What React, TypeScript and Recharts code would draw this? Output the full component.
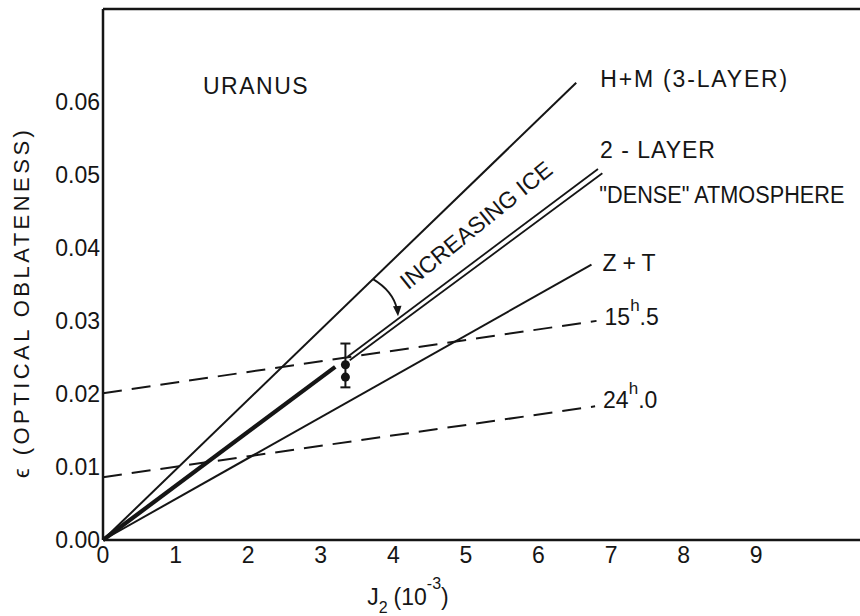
import React from 'react';
import { ComposedChart, Line, Scatter, ErrorBar, XAxis, YAxis, ReferenceDot } from 'recharts';

type Pt = { x: number; y: number };

// J2 (10^-3) on x, optical oblateness on y
const xTicks = [0, 1, 2, 3, 4, 5, 6, 7, 8, 9];
const topTicks = [1, 2, 3, 4, 5, 6, 7, 8, 9];
const yTicks = [0, 0.01, 0.02, 0.03, 0.04, 0.05, 0.06];

const hmThreeLayer: Pt[] = [{ x: 0, y: 0 }, { x: 6.52, y: 0.0626 }];
const twoLayer: Pt[] = [{ x: 3.37, y: 0.0251 }, { x: 6.82, y: 0.0508 }];
const denseAtm: Pt[] = [{ x: 3.4, y: 0.0246 }, { x: 6.88, y: 0.0502 }];
const sharedPart: Pt[] = [{ x: 0, y: 0 }, { x: 3.2, y: 0.0237 }];
const zPlusT: Pt[] = [{ x: 0, y: 0 }, { x: 6.73, y: 0.0377 }];
const period155: Pt[] = [{ x: 0, y: 0.0201 }, { x: 6.8, y: 0.03 }];
const period240: Pt[] = [{ x: 0, y: 0.0086 }, { x: 6.78, y: 0.0183 }];

const obsUpper = [{ x: 3.34, y: 0.024, err: [0.0031, 0.0029] }];
const obsLower = [{ x: 3.34, y: 0.0223 }];

const X_DOMAIN: [number, number] = [0, 10.43];
const Y_DOMAIN: [number, number] = [0, 0.0727];

const FONT = '"Liberation Sans", Arial, sans-serif';
const INK = '#151515';

const last = (s: Pt[]) => s[s.length - 1];

export default function App() {
  const lp = {
    dot: false,
    activeDot: false,
    isAnimationActive: false,
    stroke: INK,
    strokeWidth: 2,
    dataKey: 'y',
  } as const;
  const ts = { fontFamily: FONT, fontSize: 23, fill: INK };
  const tickLn = { stroke: INK, strokeWidth: 2 };
  const axisLn = { stroke: INK, strokeWidth: 2.5 };

  // text / marks placed relative to a point in data space
  const at = (key: string, p: Pt, dx: number, dy: number, body: (x: number, y: number) => React.ReactNode) => (
    <ReferenceDot
      key={key}
      x={p.x}
      y={p.y}
      r={0}
      ifOverflow="visible"
      shape={(s: any) => <g>{body(s.cx + dx, s.cy + dy)}</g>}
    />
  );

  const hmEnd = last(hmThreeLayer);
  const arrowStart = { x: 3.72, y: (hmEnd.y / hmEnd.x) * 3.72 };

  return (
    <div style={{ position: 'absolute', left: 0, top: 0, width: 860, height: 616, background: '#fff', overflow: 'hidden' }}>
      <ComposedChart width={860} height={616} margin={{ top: 9, right: 0, bottom: 46, left: 43 }}>
        {/* labelled axes */}
        <XAxis
          xAxisId={0}
          type="number"
          dataKey="x"
          domain={X_DOMAIN}
          ticks={xTicks}
          interval={0}
          height={30}
          tickSize={0}
          tickMargin={7}
          axisLine={axisLn}
          tickLine={false}
          tick={{ ...ts }}
        />
        <YAxis
          yAxisId={0}
          type="number"
          dataKey="y"
          domain={Y_DOMAIN}
          ticks={yTicks}
          interval={0}
          width={60}
          tickSize={0}
          tickMargin={3}
          tickFormatter={(v: number) => v.toFixed(2)}
          axisLine={axisLn}
          tickLine={false}
          tick={{ ...ts }}
        />
        {/* inward tick marks and the frame */}
        <XAxis
          xAxisId="bIn"
          type="number"
          dataKey="x"
          domain={X_DOMAIN}
          ticks={xTicks.slice(1)}
          interval={0}
          mirror
          height={12}
          tickSize={12}
          axisLine={false}
          tickLine={tickLn}
          tick={false}
        />
        <XAxis
          xAxisId="top"
          orientation="top"
          type="number"
          dataKey="x"
          domain={X_DOMAIN}
          ticks={topTicks}
          interval={0}
          mirror
          height={12}
          tickSize={11}
          axisLine={axisLn}
          tickLine={tickLn}
          tick={false}
        />
        <YAxis
          yAxisId="lIn"
          type="number"
          domain={Y_DOMAIN}
          ticks={yTicks.slice(1)}
          interval={0}
          mirror
          width={12}
          tickSize={10}
          axisLine={false}
          tickLine={tickLn}
          tick={false}
        />
        <YAxis
          yAxisId="rIn"
          orientation="right"
          type="number"
          domain={Y_DOMAIN}
          ticks={yTicks.slice(1)}
          interval={0}
          mirror
          width={12}
          tickSize={9}
          axisLine={false}
          tickLine={tickLn}
          tick={false}
        />

        <Line {...lp} data={hmThreeLayer} />
        <Line {...lp} data={sharedPart} strokeWidth={4.2} />
        <Line {...lp} data={twoLayer} strokeWidth={1.8} />
        <Line {...lp} data={denseAtm} strokeWidth={1.8} />
        <Line {...lp} data={zPlusT} />
        <Line {...lp} data={period155} strokeDasharray="19 10" />
        <Line {...lp} data={period240} strokeDasharray="19 10" />

        <Scatter data={obsUpper} fill={INK} isAnimationActive={false}>
          <ErrorBar dataKey="err" direction="y" width={5} stroke={INK} strokeWidth={2} isAnimationActive={false} />
        </Scatter>
        <Scatter data={obsLower} fill={INK} isAnimationActive={false} />

        {at('uranus', { x: 1.378, y: 0.0611 }, 0, 0, (x, y) => (
          <text x={x} y={y} {...ts} letterSpacing={1.5}>URANUS</text>
        ))}
        {at('hm', hmEnd, 24, 4, (x, y) => (
          <text x={x} y={y} {...ts} textLength={187} lengthAdjust="spacing">H+M (3-LAYER)</text>
        ))}
        {at('two', last(twoLayer), 2, -11, (x, y) => (
          <text x={x} y={y} {...ts} textLength={115} lengthAdjust="spacing">2 - LAYER</text>
        ))}
        {at('dense', last(denseAtm), -3, 30, (x, y) => (
          <text x={x} y={y} {...ts} textLength={245} lengthAdjust="spacingAndGlyphs">"DENSE" ATMOSPHERE</text>
        ))}
        {at('zt', last(zPlusT), 11, 6, (x, y) => (
          <text x={x} y={y} {...ts} textLength={53} lengthAdjust="spacing">Z + T</text>
        ))}
        {at('p155', last(period155), 8, 4, (x, y) => (
          <text x={x} y={y} {...ts}>
            15<tspan fontSize={17} dy={-14}>h</tspan>
            <tspan dy={14}>.</tspan>
            <tspan>5</tspan>
          </text>
        ))}
        {at('p240', last(period240), 8, 2, (x, y) => (
          <text x={x} y={y} {...ts}>
            24<tspan fontSize={17} dy={-14}>h</tspan>
            <tspan dy={14}>.</tspan>
            <tspan>0</tspan>
          </text>
        ))}
        {at('ice', { x: 5.14, y: 0.0431 }, 0, 0, (x, y) => (
          <text
            x={x}
            y={y}
            {...ts}
            textAnchor="middle"
            dominantBaseline="central"
            transform={`rotate(-39 ${x} ${y})`}
          >
            INCREASING ICE
          </text>
        ))}
        {at('arrow', arrowStart, 0, 0, (x, y) => (
          <g>
            <path d={`M${x},${y} Q${x + 20},${y + 12} ${x + 24},${y + 30}`} fill="none" stroke={INK} strokeWidth={1.8} />
            <path d={`M${x + 25},${y + 37} L${x + 20},${y + 27} L${x + 28.5},${y + 26.5} Z`} fill={INK} />
          </g>
        ))}
        {at('xtitle', { x: 3.64, y: 0 }, 0, 65, (x, y) => (
          <text x={x} y={y} {...ts}>
            J<tspan fontSize={16} dy={8}>2</tspan>
            <tspan dx={6} dy={-8}>(10</tspan>
            <tspan fontSize={16} dy={-16}>-3</tspan>
            <tspan dy={16}>)</tspan>
          </text>
        ))}
        {at('ytitle', { x: 0, y: 0.0323 }, -81, 0, (x, y) => (
          <text
            x={x}
            y={y}
            {...ts}
            fontSize={22}
            textAnchor="middle"
            dominantBaseline="central"
            textLength={348}
            lengthAdjust="spacing"
            transform={`rotate(-90 ${x} ${y})`}
          >
            ϵ (OPTICAL OBLATENESS)
          </text>
        ))}
      </ComposedChart>
    </div>
  );
}
